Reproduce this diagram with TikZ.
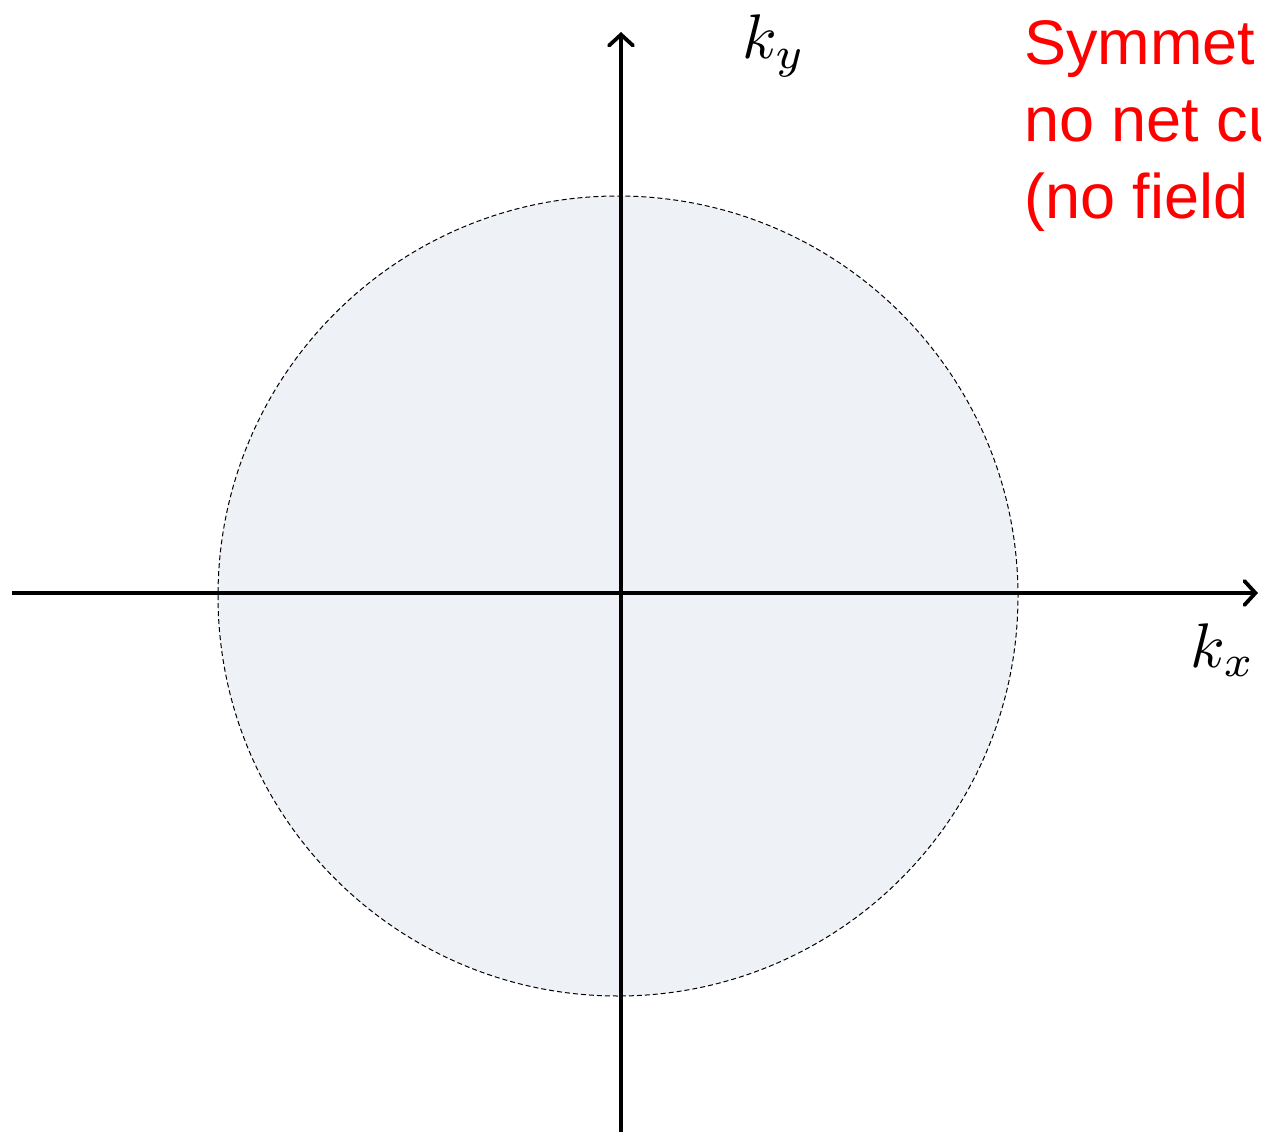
\documentclass[tikz,border=0pt]{standalone}
\usepackage{fontspec}
\newfontfamily\arialfont{Liberation Sans}
\usetikzlibrary{arrows.meta}
\definecolor{fermifill}{RGB}{238,241,245}
\definecolor{notered}{RGB}{255,0,0}
\tikzset{
  axis/.style={line width=3.8pt, -{Straight Barb[length=11pt,width=24pt,line width=3.8pt,line cap=round]}},
  fermi/.style={draw=black, fill=fermifill, line width=1pt, dash pattern=on 5pt off 3pt},
  axlabel/.style={inner sep=0pt},
  note/.style={inner sep=0pt, anchor=north west, align=left, text=notered, font=\arialfont\fontsize{63}{77}\selectfont}
}
\begin{document}
\begin{tikzpicture}[x=1pt,y=-1pt]
\useasboundingbox (0,0) rectangle (1261,1132);
\clip (0,0) rectangle (1261,1132);
\fill[white] (0,0) rectangle (1261,1132);
\node[fermi, circle, minimum size=800pt, inner sep=0pt] (fs) at (618,596) {};
\coordinate (xl) at (12,593);
\coordinate (xr) at (1258,593);
\coordinate (yb) at (621,1135);
\coordinate (yt) at (621,32);
\draw[axis] (xl) -- (xr);
\draw[axis] (yb) -- (yt);
\node[axlabel] (ky) at (774,46) {\scalebox{6.3}{$k_y$}};
\node[axlabel] (kx) at (1223,650) {\scalebox{6.3}{$k_x$}};
\node[note] (txt) at (1024,20) {Symmet\\no net cu\\(no field};
\end{tikzpicture}
\end{document}
